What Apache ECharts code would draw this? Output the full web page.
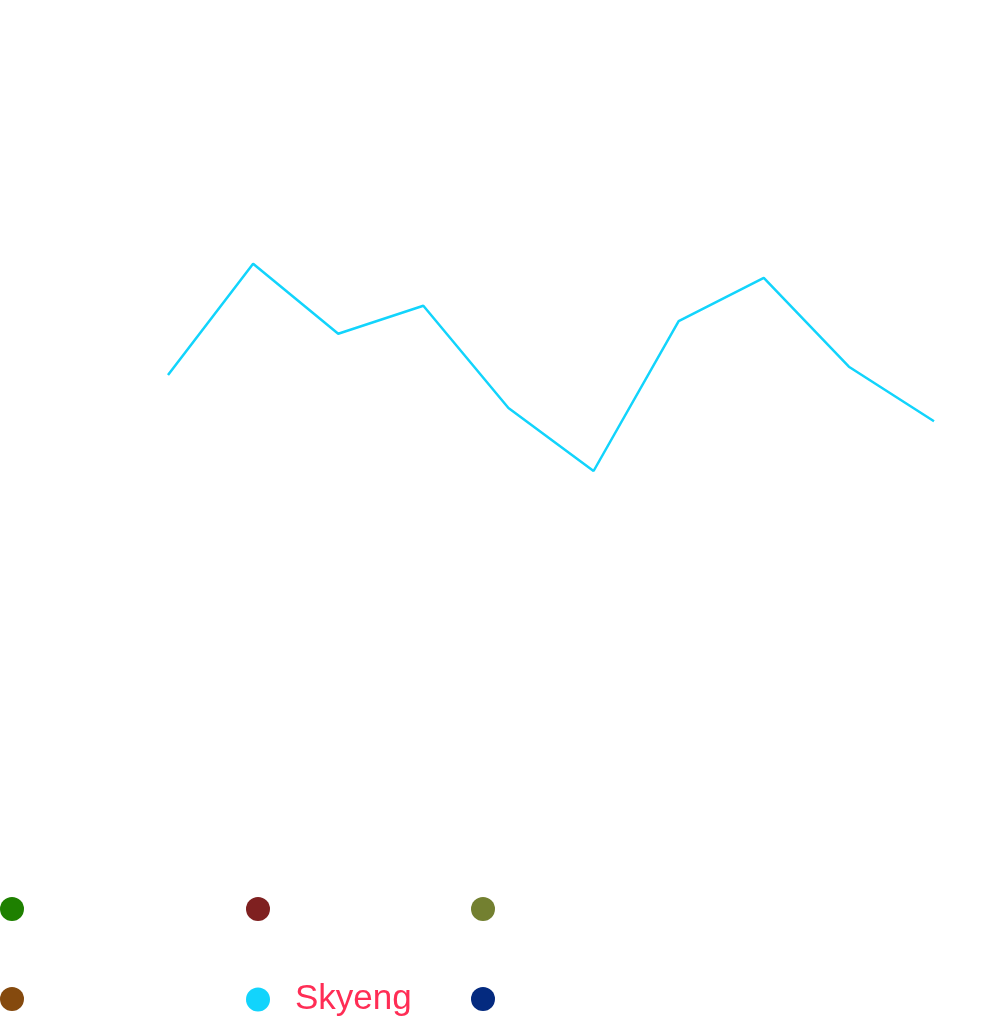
<!DOCTYPE html>
<html><head><meta charset="utf-8">
<script src="https://cdn.jsdelivr.net/npm/echarts@6/dist/echarts.min.js"></script>
<style>html,body{margin:0;padding:0;background:#fff}#c{width:981px;height:1021px}</style>
</head><body><div id="c"></div>
<script>
const categories = ['1','2','3','4','5','6','7','8','9','10'];
const seriesNames = ['Series A','Series B','Series C','Series D','Skyeng','Series F'];
const seriesColors = ['#1e8000','#7f2020','#738030','#854a0e','#12d4fc','#042a7f'];
const skyengValues = [60.7, 76.6, 66.6, 70.6, 56.0, 47.0, 68.4, 74.6, 61.9, 54.1];
const emptyValues = [];

const legendLeft = [0, 246, 471, 0, 246, 471];
const legendTop = [897, 897, 897, 987, 982, 987];

const chart = echarts.init(document.getElementById('c'));
const legends = seriesNames.map((n, i) => ({
  data: [n],
  left: legendLeft[i],
  top: legendTop[i],
  icon: 'circle',
  itemWidth: 24,
  itemHeight: 24,
  padding: 0,
  formatter: (name) => name === 'Skyeng' ? name : '',
  textStyle: { color: '#ff2d55', fontSize: 35, fontFamily: 'Liberation Sans, Arial, sans-serif', lineHeight: 24, padding: [6, 0, 0, 20] }
}));
chart.setOption({
  animation: false,
  color: seriesColors,
  legend: legends,
  grid: { left: 168, right: 47, top: 100, height: 700 },
  xAxis: { type: 'category', data: categories, boundaryGap: false, show: false },
  yAxis: { type: 'value', min: 0, max: 100, show: false },
  series: seriesNames.map((n, i) => ({
    name: n,
    type: 'line',
    data: n === 'Skyeng' ? skyengValues : emptyValues,
    showSymbol: false,
    lineStyle: { width: 2.5, color: seriesColors[i] },
    itemStyle: { color: seriesColors[i] }
  }))
});
</script></body></html>
